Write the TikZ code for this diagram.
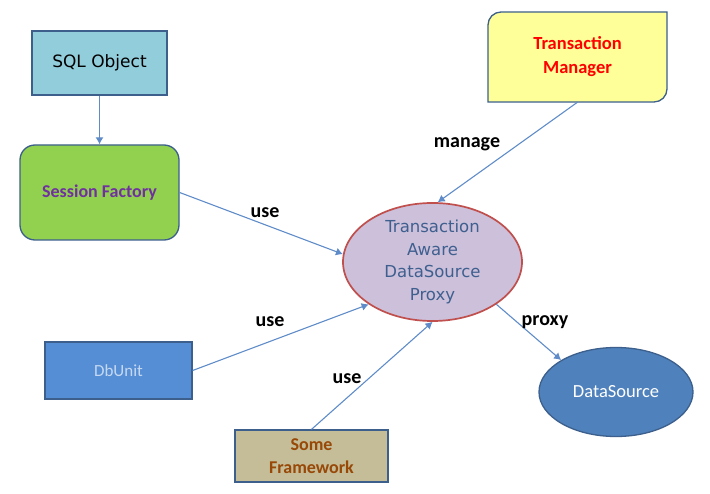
\documentclass[tikz,border=0pt]{standalone}
\usepackage{fontspec}
\setmainfont{Carlito}
\newfontfamily\dejavu{DejaVu Sans}
\usepackage{tikz}
\usetikzlibrary{calc,shapes,arrows.meta}
\definecolor{linkblue}{HTML}{5F8CC8}
\definecolor{boxline}{HTML}{3C5F8C}
\definecolor{sqlfill}{HTML}{92CDDC}
\definecolor{sffill}{HTML}{92D050}
\definecolor{sftext}{HTML}{7030A0}
\definecolor{tmfill}{HTML}{FFFF99}
\definecolor{proxyfill}{HTML}{CCC0DA}
\definecolor{proxyline}{HTML}{C0504D}
\definecolor{proxytext}{HTML}{3F5F8F}
\definecolor{dbfill}{HTML}{558ED5}
\definecolor{dbtext}{HTML}{C6D9F1}
\definecolor{fwfill}{HTML}{C4BD97}
\definecolor{fwtext}{HTML}{984807}
\definecolor{dsfill}{HTML}{4F81BD}

\begin{document}
\begin{tikzpicture}[x=1pt,y=-1pt,
        box/.style={draw=boxline,line width=1.3pt,inner sep=0pt,align=center},
        conn/.style={draw=linkblue,line width=1.1pt,-{Latex[length=7pt,width=8pt]}},
        lbl/.style={font=\fontsize{20}{24}\selectfont\bfseries,inner sep=0pt,anchor=base}]
        \useasboundingbox (0,0) rectangle (710,494);
        \node[box,fill=sqlfill,minimum width=135pt,minimum height=64pt,
            font=\dejavu\fontsize{17}{20}\selectfont] (sql) at (99.5,63) {SQL Object};
        \node[box,fill=sffill,rounded corners=15pt,minimum width=159pt,minimum height=95pt,
            text=sftext,font=\fontsize{18}{22}\selectfont\bfseries] (sf) at (99.5,192.5) {Session Factory};
        \filldraw[draw=boxline,fill=tmfill,line width=1.3pt] (667,12) -- (667,89)
            arc[start angle=0,end angle=-90,radius=13pt] -- (488,102) -- (488,25)
            arc[start angle=180,end angle=90,radius=13pt] -- cycle;
        \node[inner sep=0pt,minimum width=179pt,minimum height=90pt,align=center,
            text=red,font=\fontsize{18.5}{24}\selectfont\bfseries] (tm) at (577.5,57) {Transaction\\Manager};
        \node[box,ellipse,draw=proxyline,line width=1.7pt,fill=proxyfill,minimum width=179pt,minimum height=108pt,
            text=proxytext,font=\dejavu\fontsize{16.5}{22.5}\selectfont] (proxy) at (432.5,262)
            {Transaction\\Aware\\DataSource\\Proxy};
        \node[box,fill=dbfill,minimum width=147pt,minimum height=57pt,
            text=dbtext,font=\fontsize{17}{20}\selectfont] (db) at (118.5,370.5) {DbUnit};
        \node[box,fill=fwfill,minimum width=153pt,minimum height=52pt,
            text=fwtext,font=\fontsize{18}{23}\selectfont\bfseries] (fw) at (311.5,456) {Some\\Framework};
        \node[box,ellipse,fill=dsfill,minimum width=154pt,minimum height=89pt,
            text=white,font=\fontsize{18.5}{22}\selectfont] (ds) at (616,392) {DataSource};
        \draw[conn] (sql) -- (sf);
        \draw[conn] (sf.east) -- (proxy.175);
        \draw[conn] (tm.south) -- (proxy.85);
        \draw[conn] (db.east) -- (proxy.south west);
        \draw[conn] (fw.north) -- (proxy.south);
        \draw[conn] (proxy.south east) -- (ds.north west);
        \node[lbl] (usesf) at (265,218) {use};
        \node[lbl] (manage) at (467,148) {manage};
        \node[lbl] (usedb) at (270,327) {use};
        \node[lbl] (usefw) at (347,384) {use};
        \node[lbl] (proxylbl) at (545,326) {proxy};
\end{tikzpicture}
\end{document}
